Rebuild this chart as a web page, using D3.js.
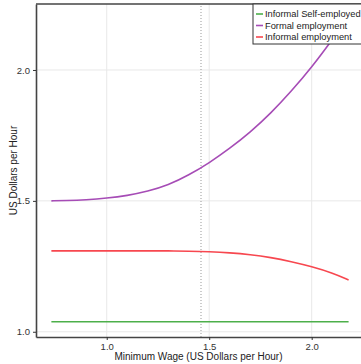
<!DOCTYPE html>
<html>
<head>
<meta charset="utf-8">
<script src="https://cdn.jsdelivr.net/npm/d3@7"></script>
<style>
  body { margin: 0; background: #fff; }
  svg { display: block; font-family: "Liberation Sans", Arial, sans-serif; }
  .grid line { stroke: #e8e8e8; stroke-width: 1; }
  .axis text { fill: #333; font-size: 9.5px; }
  .axis line { stroke: #333; }
  .axis path { stroke: #444; stroke-width: 1.6; }
</style>
</head>
<body>
<div id="chart"></div>
<script>
// Minimum wage grid (US$/hour)
const wage = [0.73, 0.8, 0.9, 1.0, 1.1, 1.2, 1.3, 1.4, 1.5, 1.6, 1.7, 1.8, 1.9, 2.0, 2.1, 2.18];

// Wages by sector
const selfEmployed = [1.038, 1.038, 1.038, 1.038, 1.038, 1.038, 1.038, 1.038, 1.038, 1.038, 1.038, 1.038, 1.038, 1.038, 1.038, 1.038];
const formal = [1.500, 1.501, 1.504, 1.510, 1.520, 1.536, 1.560, 1.598, 1.645, 1.700, 1.762, 1.834, 1.918, 2.010, 2.115, 2.205];
const informal = [1.309, 1.309, 1.309, 1.309, 1.309, 1.309, 1.309, 1.308, 1.306, 1.302, 1.295, 1.284, 1.268, 1.249, 1.225, 1.198];

const seriesNames = ["Informal Self-employed", "Formal employment", "Informal employment"];
const seriesColors = ["#4daf4a", "#a64cb6", "#f7474f"];

const xTicks = [1.0, 1.5, 2.0];
const yTicks = [1.0, 1.5, 2.0];
const currentWage = 1.46; // dotted reference line

const width = 361, height = 364;
const margin = { top: 4, right: 0, bottom: 27, left: 36 };

const svg = d3.select("#chart").append("svg")
  .attr("width", width)
  .attr("height", height);

const x = d3.scaleLinear()
  .domain([0.655, 2.2405])
  .range([margin.left, width - margin.right]);

const y = d3.scaleLinear()
  .domain([0.98, 2.252])
  .range([height - margin.bottom, margin.top]);

// Grid lines
const grid = svg.append("g").attr("class", "grid");
grid.selectAll(".gx")
  .data(xTicks)
  .enter()
  .append("line")
  .attr("x1", d => x(d)).attr("x2", d => x(d))
  .attr("y1", y.range()[0]).attr("y2", y.range()[1]);
grid.selectAll(".gy")
  .data(yTicks)
  .enter()
  .append("line")
  .attr("x1", x.range()[0]).attr("x2", x.range()[1])
  .attr("y1", d => y(d)).attr("y2", d => y(d));

// Dotted reference line
svg.append("line")
  .attr("x1", x(currentWage)).attr("x2", x(currentWage))
  .attr("y1", y.range()[0]).attr("y2", y.range()[1])
  .attr("stroke", "#999")
  .attr("stroke-width", 1)
  .attr("stroke-dasharray", "1,2");

// Series lines
const allSeries = [selfEmployed, formal, informal];
const line = d3.line()
  .x((d, i) => x(wage[i]))
  .y(d => y(d))
  .curve(d3.curveBasis);

svg.selectAll(".series")
  .data(allSeries)
  .enter()
  .append("path")
  .attr("class", "series")
  .attr("d", line)
  .attr("fill", "none")
  .attr("stroke", (d, i) => seriesColors[i])
  .attr("stroke-width", 1.6);

// Axes
svg.append("g")
  .attr("class", "axis")
  .attr("transform", "translate(0," + y.range()[0] + ")")
  .call(d3.axisBottom(x).tickValues(xTicks).tickFormat(d3.format(".1f")).tickSize(3).tickSizeOuter(0));

svg.append("g")
  .attr("class", "axis")
  .attr("transform", "translate(" + margin.left + ",0)")
  .call(d3.axisLeft(y).tickValues(yTicks).tickFormat(d3.format(".1f")).tickSize(3).tickSizeOuter(0));

// Top border of the panel
svg.append("line")
  .attr("x1", margin.left).attr("x2", width)
  .attr("y1", margin.top).attr("y2", margin.top)
  .attr("stroke", "#444")
  .attr("stroke-width", 1.6);

// Axis titles
svg.append("text")
  .attr("x", (x.range()[0] + x.range()[1]) / 2)
  .attr("y", 360)
  .attr("text-anchor", "middle")
  .attr("font-size", 10)
  .attr("fill", "#222")
  .text("Minimum Wage (US Dollars per Hour)");

svg.append("text")
  .attr("transform", "translate(17," + (y.range()[0] + y.range()[1]) / 2 + ") rotate(-90)")
  .attr("text-anchor", "middle")
  .attr("font-size", 10)
  .attr("fill", "#222")
  .text("US Dollars per Hour");

// Legend
const legend = svg.append("g")
  .attr("transform", "translate(253,4)");

legend.append("rect")
  .attr("width", 110)
  .attr("height", 40)
  .attr("fill", "#fff")
  .attr("stroke", "#333")
  .attr("stroke-width", 1);

const entries = legend.selectAll(".entry")
  .data(seriesNames)
  .enter()
  .append("g")
  .attr("transform", (d, i) => "translate(0," + (10 + i * 11.5) + ")");

entries.append("line")
  .attr("x1", 3).attr("x2", 10)
  .attr("stroke", (d, i) => seriesColors[i])
  .attr("stroke-width", 1.6);

entries.append("text")
  .attr("x", 12)
  .attr("dy", "0.35em")
  .attr("font-size", 9.3)
  .attr("fill", "#222")
  .text(d => d);
</script>
</body>
</html>
